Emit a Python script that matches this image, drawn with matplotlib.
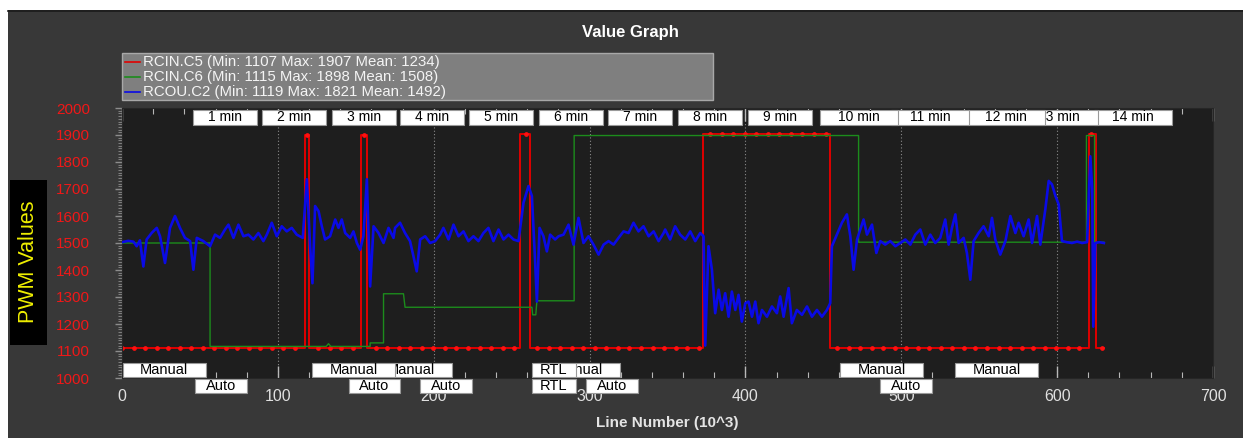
import numpy as np
import matplotlib.pyplot as plt
from matplotlib.patches import Rectangle
from matplotlib.lines import Line2D

W, H = 1243, 438

# RCIN.C5 (red) - step trace, vertices in (line number /1000, PWM)
c5_x = [0, 117.2, 117.2, 120.1, 120.1, 153.3, 153.3, 157.1, 157.1, 255.5, 255.5,
        261.9, 261.9, 372.5, 372.5, 454.4, 454.4, 620.3, 620.3, 624.8, 624.8, 630]
c5_y = [1110, 1110, 1900, 1900, 1110, 1110, 1900, 1900, 1110, 1110, 1905,
        1905, 1110, 1110, 1902, 1902, 1110, 1110, 1905, 1905, 1110, 1110]

# RCIN.C6 (green)
c6_x = [0, 56.5, 56.5, 131, 132.5, 134, 159.2, 159.2, 167.8, 167.8, 180.6, 181.6,
        263, 263.5, 265.5, 266.2, 290.1, 290.1, 472.6, 472.6, 618.8, 618.8,
        624, 624, 630]
c6_y = [1500, 1500, 1117, 1117, 1127, 1117, 1117, 1130, 1130, 1312, 1312, 1262,
        1262, 1234, 1234, 1286, 1286, 1898, 1898, 1503, 1503, 1898,
        1898, 1503, 1503]

# RCOU.C2 (blue)
c2_x = [0, 4, 7.3, 9.4, 11.5, 13.7, 15.8, 19.0, 22.3, 24.4, 27.6, 30.8, 34.0, 37.2,
        40.4, 43.7, 45.8, 48.0, 52.2, 56.5, 59.7, 62.9, 66.1, 68.3, 71.5, 74.7,
        77.9, 81.1, 84.3, 87.5, 90.7, 92.9, 96.1, 99.3, 102.5, 105.7, 108.9,
        112.1, 116.0, 118.6, 120.7, 122.2, 123.9, 126.1, 128.2, 130.3, 133.5,
        136.8, 138.9, 141.0, 143.2, 146.4, 148.5, 150.7, 152.8, 154.9, 157.1,
        159.2, 161.4, 164.6, 167.8, 171.0, 174.2, 175.2, 178.4, 181.6, 184.8,
        187.0, 189.1, 191.3, 194.5, 197.7, 200.9, 204.1, 206.2, 209.5, 212.7,
        215.9, 219.1, 222.3, 225.5, 228.7, 231.9, 235.1, 238.3, 241.6, 244.8,
        248.0, 251.2, 254.4, 257.6, 260.8, 263.0, 265.1, 266.2, 267.9, 270.4,
        272.6, 274.7, 277.9, 280.1, 283.3, 286.5, 289.7, 292.9, 296.1, 299.3,
        302.5, 305.8, 309.0, 312.2, 315.4, 318.6, 321.8, 325.0, 328.2, 331.4,
        334.6, 337.9, 341.1, 344.3, 347.5, 348.5, 351.7, 354.9, 358.1, 361.4,
        364.6, 367.8, 371.0, 373.1, 374.2, 376.3, 378.5, 380.6, 382.8, 384.9,
        387.0, 389.2, 391.3, 393.5, 395.6, 397.7, 399.9, 402.0, 404.2, 406.3,
        408.4, 410.6, 413.8, 417.0, 420.2, 422.3, 424.5, 427.7, 429.8, 433.0,
        436.3, 439.5, 442.7, 445.9, 449.1, 452.3, 454.4, 455.5, 458.7, 461.9,
        465.1, 467.3, 469.4, 471.6, 473.7, 475.8, 478.0, 481.2, 484.0, 486.5,
        489.7, 492.9, 496.2, 499.4, 502.6, 505.8, 509.0, 512.2, 515.4, 518.6,
        521.8, 525.0, 528.2, 530.4, 532.5, 534.7, 536.8, 540.0, 542.1, 544.3,
        546.4, 549.6, 552.8, 556.1, 558.2, 560.3, 563.5, 566.8, 570.0, 573.2,
        575.3, 578.5, 581.7, 583.9, 587.1, 589.2, 592.4, 594.6, 596.7, 598.9,
        601.0, 603.1, 606.3, 609.5, 612.8, 616.0, 619.2, 621.3, 622.5, 623.2,
        624.5, 627.0, 630.0]
c2_y = [1503, 1508, 1505, 1488, 1510, 1413, 1513, 1537, 1556, 1525, 1426, 1556, 1600, 1556,
        1519, 1507, 1401, 1519, 1507, 1488, 1531, 1519, 1550, 1568, 1519, 1568,
        1525, 1531, 1513, 1537, 1507, 1531, 1575, 1525, 1562, 1543, 1556,
        1531, 1519, 1736, 1488, 1351, 1637, 1618, 1562, 1513, 1525,
        1587, 1556, 1587, 1537, 1519, 1543, 1500, 1475, 1525, 1736,
        1339, 1562, 1537, 1500, 1556, 1519, 1556, 1575, 1537, 1507,
        1451, 1395, 1513, 1525, 1500, 1507, 1531, 1556, 1513, 1568,
        1525, 1543, 1507, 1525, 1507, 1537, 1556, 1507, 1550, 1513,
        1531, 1513, 1507, 1649, 1711, 1674, 1426, 1283, 1556, 1525,
        1469, 1531, 1513, 1525, 1531, 1568, 1494, 1593, 1500, 1525,
        1494, 1457, 1494, 1507, 1494, 1519, 1543, 1537, 1575, 1543,
        1562, 1525, 1543, 1507, 1537, 1550, 1513, 1562, 1531, 1513,
        1543, 1507, 1537, 1525, 1120, 1488, 1401, 1240, 1327, 1252,
        1314, 1227, 1320, 1252, 1308, 1209, 1277, 1283, 1227, 1283,
        1203, 1252, 1227, 1265, 1240, 1302, 1227, 1333, 1203, 1252,
        1234, 1265, 1227, 1252, 1227, 1252, 1277, 1488, 1531, 1575,
        1606, 1525, 1401, 1513, 1550, 1587, 1531, 1568, 1463, 1507,
        1494, 1507, 1488, 1500, 1513, 1494, 1531, 1550, 1494, 1531,
        1500, 1519, 1587, 1494, 1556, 1606, 1500, 1519, 1463, 1364,
        1507, 1537, 1562, 1525, 1593, 1513, 1457, 1507, 1600, 1537,
        1575, 1525, 1587, 1500, 1600, 1494, 1624, 1730, 1717, 1674,
        1643, 1507, 1503, 1500, 1505, 1500, 1503, 1821, 1700, 1190,
        1500, 1503, 1500]

legend_labels = ["RCIN.C5 (Min: 1107 Max: 1907 Mean: 1234)",
                 "RCIN.C6 (Min: 1115 Max: 1898 Mean: 1508)",
                 "RCOU.C2 (Min: 1119 Max: 1821 Mean: 1492)"]

# minute markers (left edge of each tag, line number /1000)
minute_x = [45.6, 89.9, 134.8, 178.4, 222.7, 267.7, 311.9, 356.9, 401.8,
            448.0, 493.6, 542.4, 576.0, 623.9]
minute_txt = ["%d min" % m for m in range(1, 15)]

# flight mode changes
mode_x = [0.6, 47.0, 122.0, 145.5, 159.0, 191.5, 263.0, 263.0, 266.4, 297.8,
          460.8, 486.5, 534.7]
mode_txt = ["Manual", "Auto", "Manual", "Auto", "Manual", "Auto", "RTL", "RTL",
            "Manual", "Auto", "Manual", "Auto", "Manual"]
mode_row = [0, 1, 0, 1, 0, 1, 0, 1, 0, 1, 0, 1, 0]

plt.rcParams['font.family'] = ['Liberation Sans', 'DejaVu Sans']

fig = plt.figure(figsize=(W / 100, H / 100), dpi=100, facecolor='white')

def fx(x):
    return x / W

def fy(y):
    return 1 - y / H

# dark panel behind everything
fig.patches.append(Rectangle((fx(8), 0), 1 - fx(8), fy(10), transform=fig.transFigure,
                             facecolor='#383838', edgecolor='none', zorder=-5))
fig.lines.append(Line2D([fx(8), 1], [fy(10.5), fy(10.5)], color='#1a1a1a', lw=1.2,
                        transform=fig.transFigure, zorder=-4))

ax = fig.add_axes([fx(122), fy(378), (1213 - 122) / W, 270 / H])
ax.set_zorder(2)
ax.set_facecolor('#1e1e1e')
for s in ax.spines.values():
    s.set_color('#262626')

ax.set_xlim(0, 700)
ax.set_ylim(1000, 2000)
ax.set_xticks(np.arange(0, 701, 100))
ax.set_xticks(np.arange(0, 701, 20), minor=True)
ax.set_yticks(np.arange(1000, 2001, 100))
ax.set_yticks(np.arange(1000, 2001, 10), minor=True)
ax.tick_params(axis='x', which='both', direction='in', top=True, colors='#b8b8b8',
               labelcolor='#e0e0e0', labelsize=11.5, pad=8)
ax.tick_params(axis='x', which='major', length=9, width=1)
ax.tick_params(axis='x', which='minor', length=4, width=0.8)
ax.tick_params(axis='y', which='both', direction='out', colors='#8c8c8c',
               labelcolor='#f01818', labelsize=11, pad=18)
ax.tick_params(axis='y', which='major', length=5, width=1)
ax.tick_params(axis='y', which='minor', length=3, width=0.6)
for v in range(100, 700, 100):
    ax.axvline(v, color='#8a8a8a', lw=0.8, ls=(0, (1, 2)), zorder=1)

ax.plot(c5_x, c5_y, color='#e00000', lw=1.4, zorder=2)
# sample markers along the RCIN.C5 trace
sx = np.arange(0, 631, 7.4)
sy = np.array(c5_y)[np.searchsorted(c5_x, sx, side='right') - 1]
ax.plot(sx, sy, ls='none', marker='o', ms=2.4, color='#ff1010', zorder=2)
ax.plot(c6_x, c6_y, color='#1c8c1c', lw=1.0, zorder=3)
ax.plot(c2_x, c2_y, color='#0a0ae6', lw=1.9, zorder=4)

tr = ax.get_xaxis_transform()

# minute tags along the top, earlier tags stacked above later ones
for i, (x, t) in enumerate(zip(minute_x, minute_txt)):
    w = 41 if len(t) == 5 else 50
    z = 20 - i * 0.1
    ax.add_patch(Rectangle((x, 0.937), w, 0.0556, transform=tr, facecolor='white',
                           edgecolor='#9a9a9a', lw=0.8, zorder=z, clip_on=False))
    ax.text(x + w / 2, 0.965, t, transform=tr, ha='center', va='center',
            fontsize=10, color='black', zorder=z + 0.05)

# flight mode tags along the bottom
box_w = {"Manual": 53, "Auto": 33, "RTL": 28}
for i, (x, t, r) in enumerate(zip(mode_x, mode_txt, mode_row)):
    w = box_w[t]
    y0 = 0.0037 if r == 0 else -0.0556
    z = 20 - i * 0.1
    ax.add_patch(Rectangle((x, y0), w, 0.052, transform=tr, facecolor='white',
                           edgecolor='#9a9a9a', lw=0.8, zorder=z, clip_on=False))
    ax.text(x + w / 2, y0 + 0.026, t, transform=tr, ha='center', va='center',
            fontsize=10.5, color='black', zorder=z + 0.05, clip_on=False)

# title, legend and axis captions
fig.text(fx(630), fy(32), "Value Graph", ha='center', va='center', color='white',
         fontsize=12, fontweight='bold')
fig.patches.append(Rectangle((fx(122), fy(100)), (713 - 122) / W, 47 / H,
                             transform=fig.transFigure, facecolor='#7f7f7f',
                             edgecolor='#a8a8a8', lw=1, zorder=1))
for ly, lab, col in zip([62, 77, 92], legend_labels, ['#e00000', '#1c8c1c', '#0a0ae6']):
    fig.lines.append(Line2D([fx(125), fx(140)], [fy(ly), fy(ly)], color=col, lw=1.2,
                            transform=fig.transFigure, zorder=2))
    fig.text(fx(143), fy(ly), lab, ha='left', va='center', color='#f4f4f4',
             fontsize=10.8, zorder=3)

fig.patches.append(Rectangle((fx(10), fy(345)), 37 / W, 165 / H,
                             transform=fig.transFigure, facecolor='black', zorder=1))
fig.text(fx(28.5), fy(262), "PWM Values", rotation=90, ha='center', va='center',
         color='#eeee00', fontsize=15.5, zorder=2)
fig.text(fx(667), fy(423), "Line Number (10^3)", ha='center', va='center',
         color='#e4e4e4', fontsize=11, fontweight='bold')

fig.savefig("out.png", dpi=100, facecolor=fig.get_facecolor())
